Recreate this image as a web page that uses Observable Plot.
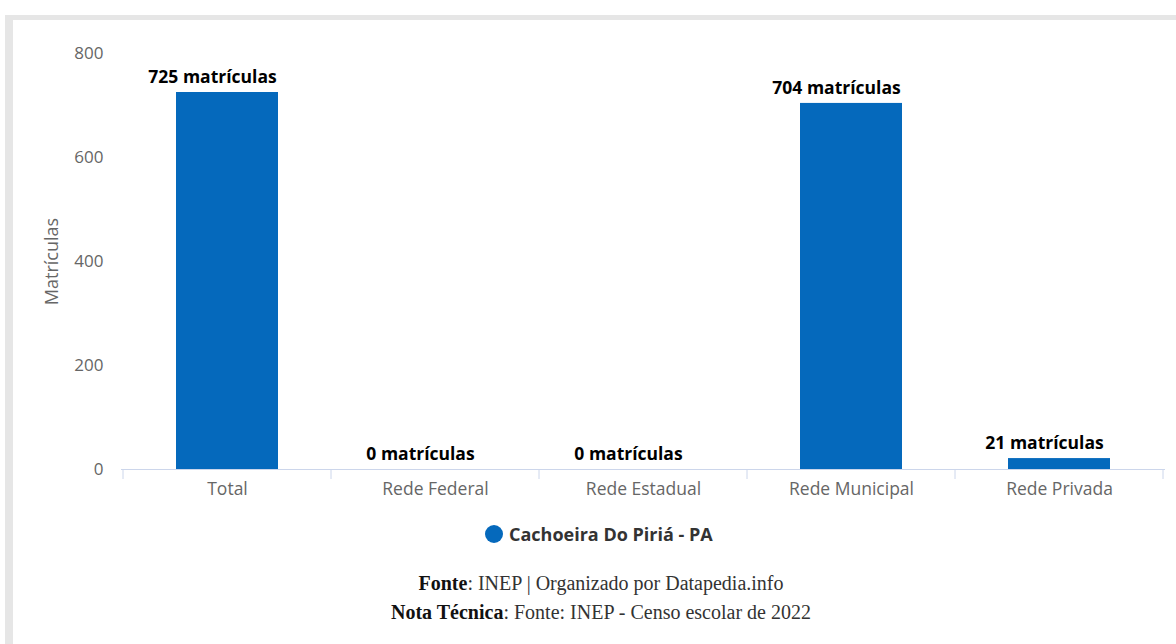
<!DOCTYPE html>
<html><head><meta charset="utf-8">
<script src="https://cdn.jsdelivr.net/npm/d3@7"></script>
<script src="https://cdn.jsdelivr.net/npm/@observablehq/plot@0.6"></script>
<style>
html,body{margin:0;padding:0;background:#fff;width:1176px;height:644px;overflow:hidden;font-family:"Open Sans",Lato,sans-serif}
#frame{position:absolute;left:5px;top:15px;width:1200px;height:700px;background:#e6e6e6}
#inner{position:absolute;left:13px;top:20px;width:1200px;height:700px;background:#fff}
#chart{position:absolute;left:0;top:0}
#legend{position:absolute;left:485px;top:524px;height:20px;display:flex;align-items:center;font:bold 18px "Open Sans",sans-serif;color:#333}
#legend .dot{width:18px;height:18px;border-radius:50%;background:#0569bc;margin-right:6px}
#caption{position:absolute;left:13px;width:1176px;top:569px;text-align:center;font:20px "Liberation Serif","DejaVu Serif",serif;color:#333;line-height:29px}
#caption b{color:#111}
</style></head>
<body>
<div id="frame"></div><div id="inner"></div>
<div id="chart"></div>
<div id="legend"><span class="dot"></span><span>Cachoeira Do Piriá - PA</span></div>
<div id="caption"><div><b>Fonte</b>: INEP | Organizado por Datapedia.info</div><div><b>Nota Técnica</b>: Fonte: INEP - Censo escolar de 2022</div></div>
<script>
const categories = ["Total","Rede Federal","Rede Estadual","Rede Municipal","Rede Privada"];
const values = [725, 0, 0, 704, 21];
const yTicks = [0, 200, 400, 600, 800];
const seriesName = "Cachoeira Do Piriá - PA";
const unit = "matrículas";

const data = categories.map((c,i)=>({cat:c, value:values[i]}));

const plot = Plot.plot({
  width: 1176, height: 510,
  marginTop: 53, marginBottom: 41, marginLeft: 121, marginRight: 11,
  style: {fontFamily: "'Open Sans', Lato, sans-serif", background: "transparent", overflow: "visible"},
  x: {domain: categories, paddingInner: 0.51, paddingOuter: 0.255},
  y: {domain: [0, 800]},
  marks: [
    Plot.gridY(yTicks, {stroke: "#e6e9ef", strokeOpacity: 1, x1: 111}),
    Plot.axisY(yTicks, {tickSize: 0, tickPadding: 18, fontSize: 17, fill: "#666", label: "Matrículas", labelAnchor: "center", labelOffset: 76, labelArrow: "none"}),
    Plot.barY(data, {x: "cat", y: "value", fill: "#0569bc"}),
    Plot.ruleY([0], {stroke: "#ccd6eb"}),
    Plot.axisX({tickSize: 0, tickPadding: 13, fontSize: 17.5, fill: "#666", label: null}),
    Plot.text(data, {x: "cat", y: "value", text: d => `${d.value} ${unit}`, dy: -15, dx: -15, fontSize: 17.5, fontWeight: "bold", fill: "#000", stroke: "#fff", strokeWidth: 1})
  ]
});
document.getElementById("chart").appendChild(plot);

// category boundary ticks on x axis
const xs = plot.scale("x");
const step = xs.step;
const svg = d3.select(plot);
const bounds = categories.map(c => xs.apply(c) + xs.bandwidth/2 - step/2);
bounds.push(bounds[bounds.length-1] + step);
svg.append("g").selectAll("line").data(bounds).join("line")
  .attr("x1", d=>d).attr("x2", d=>d).attr("y1", 469).attr("y2", 479)
  .attr("stroke", "#ccd6eb");
// y-axis title style
svg.selectAll("[aria-label='y-axis label'] text").attr("font-size", 18).attr("fill", "#666");
</script>
</body></html>
